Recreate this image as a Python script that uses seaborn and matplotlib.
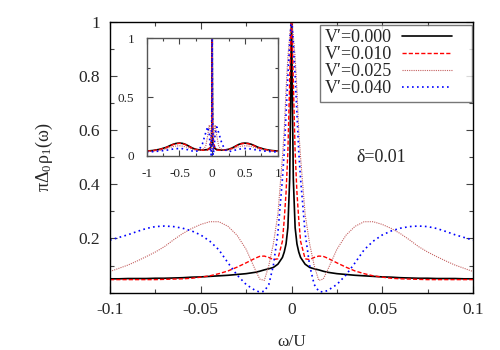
import numpy as np
import pandas as pd
import matplotlib
matplotlib.use("Agg")
import matplotlib.pyplot as plt
import seaborn as sns
from matplotlib.ticker import MultipleLocator
from matplotlib.legend_handler import HandlerLine2D

# main panel: positive half of omega/U, curves are symmetric about 0
w_half = [0, 0.0005, 0.001, 0.002, 0.003, 0.004, 0.005, 0.0075, 0.01, 0.0125,
          0.015, 0.0175, 0.02, 0.025, 0.03, 0.035, 0.04, 0.045, 0.05, 0.055,
          0.06, 0.065, 0.07, 0.075, 0.08, 0.085, 0.09, 0.095, 0.1]
rho_v000 = [1.05, 0.70, 0.42, 0.24, 0.18, 0.15, 0.13, 0.105, 0.093, 0.088,
            0.084, 0.079, 0.075, 0.070, 0.067, 0.064, 0.062, 0.060, 0.058, 0.057,
            0.055, 0.054, 0.053, 0.053, 0.052, 0.052, 0.052, 0.051, 0.051]
rho_v010 = [1.05, 0.92, 0.78, 0.52, 0.37, 0.27, 0.19, 0.125, 0.122, 0.130,
            0.135, 0.134, 0.127, 0.110, 0.094, 0.080, 0.070, 0.062, 0.057, 0.053,
            0.051, 0.050, 0.049, 0.048, 0.048, 0.048, 0.048, 0.048, 0.048]
rho_v025 = [1.05, 0.98, 0.95, 0.87, 0.75, 0.60, 0.50, 0.29, 0.18, 0.10,
            0.045, 0.050, 0.085, 0.160, 0.212, 0.245, 0.262, 0.262, 0.252, 0.237,
            0.218, 0.195, 0.170, 0.150, 0.133, 0.117, 0.102, 0.090, 0.078]
rho_v040 = [1.05, 0.97, 0.92, 0.80, 0.66, 0.52, 0.42, 0.22, 0.10, 0.03,
            0.005, 0.002, 0.008, 0.030, 0.065, 0.110, 0.158, 0.190, 0.213, 0.228,
            0.238, 0.244, 0.246, 0.244, 0.237, 0.226, 0.214, 0.204, 0.194]

# inset panel: positive half of omega/U over [-1, 1]
wi_half = [0, 0.005, 0.015, 0.03, 0.045, 0.07, 0.1, 0.15, 0.2, 0.25, 0.3, 0.35,
           0.4, 0.45, 0.5, 0.55, 0.6, 0.65, 0.7, 0.8, 0.9, 1.0]
ins_v000 = [1.05, 0.13, 0.084, 0.067, 0.060, 0.053, 0.051, 0.048, 0.050, 0.055, 0.065, 0.080,
            0.095, 0.105, 0.108, 0.105, 0.097, 0.085, 0.072, 0.055, 0.045, 0.040]
ins_v010 = [1.05, 0.19, 0.135, 0.094, 0.062, 0.049, 0.048, 0.047, 0.049, 0.054, 0.063, 0.078,
            0.093, 0.103, 0.106, 0.103, 0.095, 0.083, 0.070, 0.054, 0.044, 0.039]
ins_v025 = [1.05, 0.50, 0.045, 0.212, 0.262, 0.170, 0.078, 0.050, 0.045, 0.048, 0.055, 0.065,
            0.075, 0.082, 0.085, 0.083, 0.078, 0.070, 0.060, 0.047, 0.040, 0.035]
ins_v040 = [1.05, 0.42, 0.005, 0.065, 0.190, 0.246, 0.194, 0.100, 0.050, 0.035, 0.040, 0.048,
            0.055, 0.060, 0.062, 0.060, 0.057, 0.052, 0.047, 0.040, 0.035, 0.032]

labels = ["V\u2032=0.000", "V\u2032=0.010", "V\u2032=0.025", "V\u2032=0.040"]
colors = ["black", "#ff0000", "#c46060", "#0000ff"]
styles = ["-", (0, (3, 1.5)), (0, (1, 1)), (0, (1, 2))]
widths = [1.2, 1.0, 0.8, 1.2]


def full(half, neg=False):
    if neg:
        return [-v for v in half[:0:-1]] + list(half)
    return list(half[:0:-1]) + list(half)


class ShortLine(HandlerLine2D):
    # gnuplot style key: sample line followed by some empty space
    def create_artists(self, legend, orig_handle, xdescent, ydescent, width,
                       height, fontsize, trans):
        return super().create_artists(legend, orig_handle, xdescent, ydescent,
                                      width * 0.76, height, fontsize, trans)


sns.set_style("ticks")
plt.rcParams["font.family"] = ["Liberation Serif", "DejaVu Serif"]
plt.rcParams["mathtext.fontset"] = "stix"

fig = plt.figure(figsize=(5, 3.5), dpi=100)
ax = fig.add_axes([0.22, 0.164, 0.726, 0.773])

for lab, ys, c, ls, lw in zip(labels, [rho_v000, rho_v010, rho_v025, rho_v040],
                              colors, styles, widths):
    sns.lineplot(x=full(w_half, True), y=full(ys), ax=ax, color=c, linestyle=ls,
                 linewidth=lw, label=lab, sort=False, estimator=None)

ax.set_xlim(-0.1, 0.1)
ax.set_ylim(0, 1)
ax.set_xticks([-0.1, -0.05, 0, 0.05, 0.1])
ax.set_xticklabels(["-0.1", "-0.05", "0", "0.05", "0.1"])
ax.set_yticks([0.2, 0.4, 0.6, 0.8, 1.0])
ax.set_yticklabels(["0.2", "0.4", "0.6", "0.8", "1"])
ax.xaxis.set_minor_locator(MultipleLocator(0.025))
ax.yaxis.set_minor_locator(MultipleLocator(0.1))
ax.tick_params(which="both", direction="in", top=True, right=True, labelsize=12.5,
               color="#444444", width=0.8)
ax.tick_params(which="major", length=5, pad=7)
ax.tick_params(which="minor", length=3)
for s in ax.spines.values():
    s.set_linewidth(1.0)
    s.set_color("black")
ax.set_xlabel("\u03c9/U", fontsize=12.5, labelpad=11)
ax.set_ylabel("\u03c0\u0394$_{\\mathregular{0}}$\u03c1$_{\\mathregular{1}}$(\u03c9)",
              fontsize=13, labelpad=17)
ax.text(0.036, 0.5, "\u03b4=0.01", fontsize=13, va="center", ha="left")

leg = ax.legend(loc="upper right", bbox_to_anchor=(0.997, 0.99), markerfirst=False,
                fontsize=13, frameon=True, fancybox=False, handlelength=3.6,
                labelspacing=0.0, borderpad=0.25, handletextpad=0.6, borderaxespad=0,
                handler_map={plt.Line2D: ShortLine()})
leg.get_frame().set_edgecolor("#555555")
leg.get_frame().set_linewidth(1.0)

# inset
ins = fig.add_axes([0.2934, 0.555, 0.262, 0.3354])
for ys, c, ls, lw in zip([ins_v000, ins_v010, ins_v025, ins_v040], colors, styles, widths):
    sns.lineplot(x=full(wi_half, True), y=full(ys), ax=ins, color=c, linestyle=ls,
                 linewidth=lw, sort=False, estimator=None)
ins.set_xlim(-1, 1)
ins.set_ylim(0, 1)
ins.set_xticks([-1, -0.5, 0, 0.5, 1])
ins.set_xticklabels(["-1", "-0.5", "0", "0.5", "1"])
ins.set_yticks([0, 0.5, 1])
ins.set_yticklabels(["0", "0.5", "1"])
ins.xaxis.set_minor_locator(MultipleLocator(0.25))
ins.yaxis.set_minor_locator(MultipleLocator(0.25))
ins.tick_params(which="both", direction="in", top=True, right=True, labelsize=9.5,
                color="#444444", width=0.8)
ins.tick_params(which="major", length=4, pad=9)
ins.tick_params(which="minor", length=2.5)
for s in ins.spines.values():
    s.set_linewidth(1.0)
    s.set_color("#555555")
if ins.get_legend() is not None:
    ins.get_legend().remove()

fig.savefig("out.png", dpi=100)
